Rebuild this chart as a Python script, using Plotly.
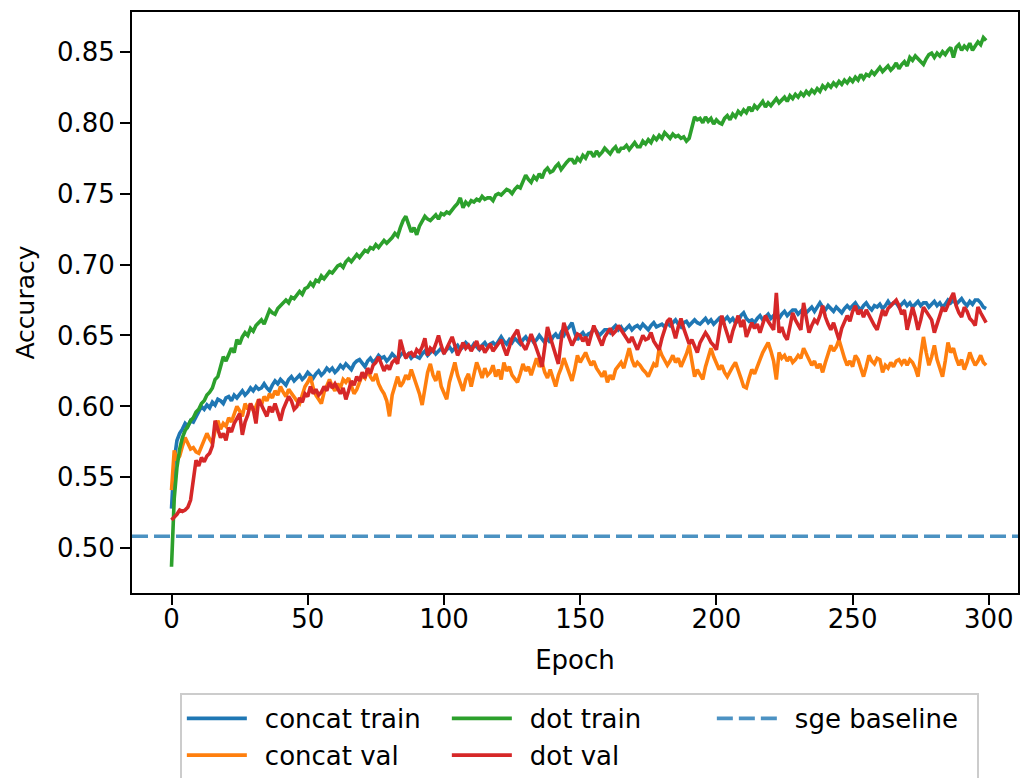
import plotly.graph_objects as go

epochs = list(range(300))

concat_train = [
    0.528, 0.562, 0.576, 0.581, 0.584, 0.588, 0.586, 0.590, 0.589, 0.593,
    0.597, 0.600, 0.598, 0.601, 0.599, 0.603, 0.601, 0.605, 0.604, 0.602,
    0.606, 0.607, 0.604, 0.608, 0.606, 0.609, 0.611, 0.608, 0.610, 0.613,
    0.611, 0.614, 0.612, 0.613, 0.616, 0.613, 0.611, 0.615, 0.618, 0.616,
    0.619, 0.617, 0.615, 0.619, 0.621, 0.618, 0.620, 0.622, 0.619, 0.621,
    0.624, 0.622, 0.620, 0.623, 0.625, 0.622, 0.624, 0.627, 0.625, 0.627,
    0.624, 0.626, 0.629, 0.627, 0.630, 0.628, 0.626, 0.630, 0.632, 0.633,
    0.630, 0.628, 0.632, 0.634, 0.631, 0.633, 0.636, 0.634, 0.635, 0.632,
    0.634, 0.637, 0.635, 0.633, 0.636, 0.638, 0.635, 0.637, 0.634, 0.636,
    0.635, 0.634, 0.637, 0.639, 0.636, 0.638, 0.640, 0.637, 0.639, 0.641,
    0.638, 0.640, 0.642, 0.639, 0.641, 0.643, 0.640, 0.642, 0.645, 0.643,
    0.641, 0.644, 0.642, 0.640, 0.643, 0.645, 0.642, 0.644, 0.645, 0.643,
    0.646, 0.649, 0.646, 0.644, 0.647, 0.645, 0.648, 0.646, 0.644, 0.647,
    0.649, 0.646, 0.648, 0.645, 0.647, 0.650, 0.647, 0.645, 0.648, 0.645,
    0.649, 0.651, 0.648, 0.652, 0.650, 0.654, 0.656, 0.659, 0.652, 0.647,
    0.650, 0.652, 0.649, 0.651, 0.652, 0.655, 0.653, 0.650, 0.652, 0.654,
    0.654, 0.652, 0.655, 0.657, 0.654, 0.656, 0.653, 0.655, 0.657, 0.654,
    0.656, 0.657, 0.655, 0.658, 0.656, 0.654, 0.657, 0.659, 0.656, 0.657,
    0.658, 0.656, 0.659, 0.657, 0.659, 0.661, 0.658, 0.656, 0.659, 0.660,
    0.657, 0.659, 0.661, 0.659, 0.658, 0.660, 0.662, 0.659, 0.661, 0.658,
    0.660, 0.662, 0.659, 0.661, 0.663, 0.660, 0.662, 0.659, 0.660, 0.664,
    0.666, 0.662, 0.660, 0.661, 0.659, 0.662, 0.664, 0.661, 0.663, 0.665,
    0.662, 0.664, 0.664, 0.662, 0.665, 0.667, 0.664, 0.666, 0.668, 0.668,
    0.665, 0.667, 0.669, 0.666, 0.668, 0.670, 0.667, 0.670, 0.673, 0.670,
    0.668, 0.671, 0.669, 0.667, 0.670, 0.668, 0.666, 0.669, 0.671, 0.669,
    0.671, 0.673, 0.670, 0.668, 0.671, 0.673, 0.670, 0.668, 0.671, 0.670,
    0.672, 0.669, 0.671, 0.674, 0.671, 0.673, 0.673, 0.670, 0.672, 0.674,
    0.671, 0.673, 0.670, 0.672, 0.674, 0.671, 0.673, 0.673, 0.670, 0.672,
    0.674, 0.671, 0.673, 0.670, 0.672, 0.675, 0.673, 0.675, 0.672, 0.674,
    0.676, 0.673, 0.671, 0.674, 0.672, 0.675, 0.675, 0.673, 0.670, 0.669,
]

concat_val = [
    0.541, 0.569, 0.562, 0.565, 0.572, 0.578, 0.574, 0.570, 0.571, 0.568,
    0.567, 0.572, 0.576, 0.581, 0.577, 0.574, 0.583, 0.590, 0.584, 0.588,
    0.586, 0.592, 0.589, 0.595, 0.600, 0.597, 0.593, 0.602, 0.598, 0.602,
    0.597, 0.600, 0.605, 0.601, 0.607, 0.604, 0.609, 0.606, 0.611, 0.608,
    0.614, 0.610, 0.607, 0.612, 0.609, 0.606, 0.604, 0.602, 0.609, 0.614,
    0.617, 0.621, 0.613, 0.608, 0.605, 0.602, 0.610, 0.615, 0.619, 0.614,
    0.611, 0.616, 0.613, 0.619, 0.617, 0.620, 0.615, 0.609, 0.612, 0.618,
    0.622, 0.620, 0.626, 0.621, 0.618, 0.623, 0.616, 0.612, 0.609, 0.604,
    0.593, 0.608, 0.615, 0.621, 0.614, 0.617, 0.622, 0.619, 0.626, 0.620,
    0.616, 0.609, 0.601, 0.612, 0.624, 0.630, 0.622, 0.618, 0.625, 0.614,
    0.609, 0.605, 0.617, 0.624, 0.631, 0.622, 0.616, 0.611, 0.619, 0.623,
    0.614, 0.622, 0.631, 0.626, 0.620, 0.627, 0.622, 0.624, 0.629, 0.621,
    0.626, 0.619, 0.631, 0.625, 0.628, 0.622, 0.619, 0.617, 0.623, 0.630,
    0.625, 0.628, 0.622, 0.629, 0.634, 0.628, 0.631, 0.624, 0.620, 0.626,
    0.619, 0.614, 0.622, 0.627, 0.634, 0.629, 0.623, 0.618, 0.626, 0.636,
    0.631, 0.634, 0.638, 0.633, 0.629, 0.632, 0.627, 0.624, 0.621, 0.625,
    0.617, 0.622, 0.619, 0.626, 0.629, 0.631, 0.627, 0.635, 0.641, 0.633,
    0.628, 0.631, 0.629, 0.626, 0.624, 0.621, 0.625, 0.630, 0.628, 0.641,
    0.636, 0.633, 0.629, 0.632, 0.636, 0.631, 0.634, 0.628, 0.632, 0.637,
    0.643, 0.630, 0.621, 0.626, 0.623, 0.619, 0.628, 0.634, 0.641, 0.635,
    0.630, 0.626, 0.629, 0.624, 0.621, 0.625, 0.628, 0.631, 0.626, 0.620,
    0.614, 0.613, 0.620, 0.626, 0.623, 0.629, 0.633, 0.638, 0.641, 0.645,
    0.639, 0.632, 0.619, 0.638, 0.634, 0.636, 0.632, 0.635, 0.631, 0.633,
    0.636, 0.634, 0.641, 0.637, 0.633, 0.629, 0.632, 0.627, 0.630, 0.624,
    0.631, 0.637, 0.643, 0.639, 0.642, 0.647, 0.640, 0.634, 0.629, 0.632,
    0.628, 0.636, 0.633, 0.627, 0.621, 0.628, 0.636, 0.632, 0.630, 0.634,
    0.633, 0.624, 0.629, 0.627, 0.631, 0.628, 0.632, 0.633, 0.630, 0.633,
    0.629, 0.633, 0.631, 0.627, 0.621, 0.636, 0.649, 0.638, 0.629, 0.635,
    0.643, 0.633, 0.627, 0.621, 0.632, 0.645, 0.638, 0.641, 0.634, 0.629,
    0.633, 0.626, 0.631, 0.638, 0.633, 0.629, 0.632, 0.636, 0.631, 0.629,
]

dot_train = [
    0.487, 0.535, 0.557, 0.570, 0.578, 0.583, 0.586, 0.590, 0.592, 0.596,
    0.598, 0.602, 0.604, 0.608, 0.610, 0.613, 0.619, 0.621, 0.628, 0.635,
    0.632, 0.637, 0.641, 0.638, 0.647, 0.644, 0.649, 0.652, 0.650, 0.655,
    0.653, 0.657, 0.659, 0.661, 0.658, 0.664, 0.668, 0.666, 0.665, 0.669,
    0.671, 0.673, 0.675, 0.673, 0.677, 0.676, 0.679, 0.681, 0.679, 0.683,
    0.684, 0.687, 0.685, 0.689, 0.688, 0.692, 0.690, 0.693, 0.695, 0.694,
    0.697, 0.699, 0.700, 0.698, 0.702, 0.704, 0.702, 0.705, 0.707, 0.705,
    0.708, 0.710, 0.709, 0.712, 0.711, 0.714, 0.712, 0.715, 0.717, 0.715,
    0.717, 0.719, 0.722, 0.720, 0.726, 0.731, 0.734, 0.728, 0.723, 0.726,
    0.721, 0.727, 0.731, 0.734, 0.732, 0.731, 0.733, 0.735, 0.732, 0.736,
    0.735, 0.737, 0.736, 0.739, 0.741, 0.743, 0.747, 0.740, 0.744, 0.742,
    0.745, 0.744, 0.746, 0.745, 0.748, 0.746, 0.747, 0.747, 0.745, 0.749,
    0.750, 0.749, 0.751, 0.753, 0.752, 0.750, 0.753, 0.755, 0.754, 0.759,
    0.763, 0.760, 0.758, 0.762, 0.760, 0.764, 0.761, 0.766, 0.768, 0.765,
    0.766, 0.769, 0.771, 0.767, 0.770, 0.772, 0.774, 0.774, 0.771, 0.775,
    0.773, 0.777, 0.775, 0.779, 0.779, 0.776, 0.780, 0.777, 0.779, 0.782,
    0.780, 0.778, 0.781, 0.783, 0.779, 0.782, 0.782, 0.784, 0.781, 0.784,
    0.786, 0.783, 0.783, 0.787, 0.785, 0.788, 0.786, 0.790, 0.788, 0.791,
    0.789, 0.793, 0.791, 0.789, 0.792, 0.790, 0.791, 0.789, 0.790, 0.787,
    0.789, 0.798, 0.804, 0.802, 0.803, 0.800, 0.804, 0.801, 0.803, 0.799,
    0.802, 0.800, 0.799, 0.803, 0.805, 0.802, 0.806, 0.804, 0.808, 0.806,
    0.809, 0.807, 0.811, 0.808, 0.812, 0.810, 0.813, 0.815, 0.811, 0.814,
    0.812, 0.815, 0.817, 0.814, 0.816, 0.818, 0.815, 0.819, 0.817, 0.820,
    0.818, 0.821, 0.819, 0.822, 0.820, 0.823, 0.821, 0.824, 0.822, 0.826,
    0.824, 0.827, 0.825, 0.828, 0.826, 0.829, 0.827, 0.830, 0.828, 0.831,
    0.829, 0.832, 0.830, 0.834, 0.831, 0.834, 0.833, 0.836, 0.834, 0.837,
    0.839, 0.836, 0.838, 0.840, 0.837, 0.839, 0.842, 0.838, 0.841, 0.843,
    0.840, 0.846, 0.844, 0.847, 0.845, 0.843, 0.841, 0.845, 0.848, 0.849,
    0.846, 0.849, 0.847, 0.850, 0.848, 0.851, 0.853, 0.846, 0.853, 0.855,
    0.851, 0.854, 0.852, 0.856, 0.851, 0.854, 0.857, 0.855, 0.860, 0.858,
]

dot_val = [
    0.520, 0.522, 0.524, 0.527, 0.526, 0.527, 0.529, 0.534, 0.548, 0.562,
    0.558, 0.564, 0.561, 0.565, 0.567, 0.572, 0.590, 0.583, 0.578, 0.581,
    0.576, 0.585, 0.582, 0.588, 0.591, 0.595, 0.580, 0.589, 0.594, 0.602,
    0.598, 0.588, 0.605, 0.601, 0.598, 0.593, 0.600, 0.596, 0.602, 0.595,
    0.590, 0.598, 0.603, 0.607, 0.604, 0.598, 0.600, 0.606, 0.603, 0.609,
    0.607, 0.614, 0.609, 0.612, 0.608, 0.610, 0.614, 0.611, 0.617, 0.613,
    0.616, 0.612, 0.609, 0.613, 0.605, 0.611, 0.618, 0.615, 0.621, 0.618,
    0.624, 0.620, 0.627, 0.623, 0.629, 0.631, 0.635, 0.630, 0.625, 0.629,
    0.626, 0.631, 0.633, 0.630, 0.647, 0.640, 0.634, 0.637, 0.638, 0.635,
    0.640, 0.638, 0.642, 0.648, 0.636, 0.641, 0.639, 0.644, 0.650, 0.643,
    0.637, 0.641, 0.645, 0.649, 0.643, 0.636, 0.640, 0.645, 0.641, 0.643,
    0.639, 0.642, 0.646, 0.640, 0.643, 0.638, 0.641, 0.644, 0.639, 0.642,
    0.645, 0.647, 0.641, 0.636, 0.642, 0.648, 0.651, 0.654, 0.646, 0.643,
    0.640, 0.645, 0.651, 0.646, 0.641, 0.635, 0.628, 0.644, 0.656, 0.649,
    0.643, 0.637, 0.630, 0.646, 0.659, 0.653, 0.648, 0.643, 0.647, 0.651,
    0.650, 0.646, 0.649, 0.643, 0.650, 0.657, 0.652, 0.648, 0.643, 0.649,
    0.652, 0.655, 0.651, 0.653, 0.657, 0.654, 0.650, 0.647, 0.645, 0.649,
    0.644, 0.640, 0.645, 0.650, 0.647, 0.648, 0.652, 0.646, 0.643, 0.640,
    0.648, 0.655, 0.660, 0.662, 0.654, 0.648, 0.656, 0.662, 0.655, 0.649,
    0.644, 0.647, 0.642, 0.638, 0.645, 0.648, 0.652, 0.649, 0.645, 0.643,
    0.640, 0.652, 0.664, 0.657, 0.650, 0.645, 0.653, 0.659, 0.664, 0.656,
    0.661, 0.649, 0.654, 0.659, 0.655, 0.658, 0.652, 0.659, 0.664, 0.660,
    0.657, 0.654, 0.680, 0.652, 0.656, 0.650, 0.647, 0.658, 0.666, 0.661,
    0.657, 0.654, 0.673, 0.663, 0.652, 0.657, 0.661, 0.659, 0.664, 0.671,
    0.663, 0.658, 0.654, 0.659, 0.652, 0.647, 0.655, 0.660, 0.664, 0.660,
    0.667, 0.671, 0.665, 0.668, 0.663, 0.668, 0.664, 0.660, 0.657, 0.654,
    0.662, 0.668, 0.664, 0.669, 0.671, 0.673, 0.675, 0.671, 0.665, 0.668,
    0.654, 0.662, 0.670, 0.663, 0.654, 0.661, 0.670, 0.667, 0.664, 0.661,
    0.652, 0.658, 0.664, 0.670, 0.667, 0.672, 0.676, 0.680, 0.671, 0.666,
    0.663, 0.670, 0.667, 0.662, 0.660, 0.657, 0.670, 0.666, 0.662, 0.659,
]

sge_baseline = 0.5085

y_ticks = [0.50, 0.55, 0.60, 0.65, 0.70, 0.75, 0.80, 0.85]
x_ticks = [0, 50, 100, 150, 200, 250, 300]

FONT = "DejaVu Sans"
C_BLUE, C_ORANGE, C_GREEN, C_RED = "#1f77b4", "#ff7f0e", "#2ca02c", "#d62728"
LW = 3.6
GAP = "\u2002"  # spacing between legend handle and label

fig = go.Figure()
series = [
    ("concat train", concat_train, C_BLUE, 1),
    ("concat val", concat_val, C_ORANGE, 4),
    ("dot train", dot_train, C_GREEN, 2),
    ("dot val", dot_val, C_RED, 5),
]
for name, vals, col, rank in series:
    fig.add_trace(go.Scatter(
        x=epochs, y=vals, mode="lines", name=GAP + name, legendrank=rank,
        line=dict(color=col, width=LW),
    ))

fig.add_shape(
    type="line", xref="x domain", yref="y", x0=0, x1=1,
    y0=sge_baseline, y1=sge_baseline,
    line=dict(color=C_BLUE, width=LW, dash="16px,6px"),
    opacity=0.8, showlegend=True, name=GAP + "sge baseline", legendrank=3,
)

axis_common = dict(
    showline=True, mirror=True, linecolor="black", linewidth=2,
    ticks="outside", ticklen=10, tickwidth=2, tickcolor="black",
    showgrid=False, zeroline=False,
    tickfont=dict(family=FONT, size=26, color="black"),
)

fig.update_layout(
    width=1021, height=778,
    margin=dict(l=132, r=3, t=12, b=185, autoexpand=False),
    paper_bgcolor="white", plot_bgcolor="white",
    font=dict(family=FONT, size=25, color="black"),
    xaxis=dict(
        range=[-14.5, 310.7], tickvals=x_ticks, ticklabelstandoff=-8,
        title=dict(text="Epoch", font=dict(family=FONT, size=26), standoff=18),
        **axis_common,
    ),
    yaxis=dict(
        range=[0.4685, 0.878], tickvals=y_ticks, tickformat=".2f",
        ticklabelstandoff=0,
        title=dict(text="Accuracy", font=dict(family=FONT, size=25), standoff=15),
        **axis_common,
    ),
    legend=dict(
        orientation="h", x=0.054, xanchor="left", y=-0.172, yanchor="top",
        bordercolor="#cccccc", borderwidth=2, bgcolor="white",
        font=dict(family=FONT, size=26, color="black"),
        entrywidth=190, itemwidth=60,
    ),
    showlegend=True,
)

fig.write_html("out.html")
